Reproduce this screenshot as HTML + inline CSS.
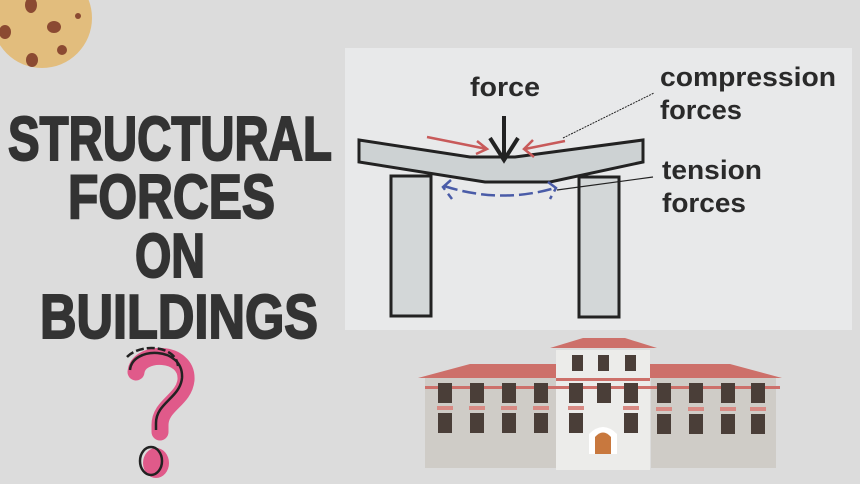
<!DOCTYPE html>
<html><head><meta charset="utf-8"><style>
html,body{margin:0;padding:0;}
body{width:860px;height:484px;background:#dcdcdc;overflow:hidden;position:relative;font-family:"Liberation Sans",sans-serif;}
svg{position:absolute;left:0;top:0;}
</style></head><body>
<svg width="860" height="484" viewBox="0 0 860 484">
<circle cx="42" cy="18" r="50" fill="#e2bd7d"/>
<ellipse cx="31" cy="5" rx="6" ry="8" fill="#8b4a32"/>
<ellipse cx="54" cy="27" rx="7" ry="6" fill="#8b4a32"/>
<ellipse cx="5" cy="32" rx="6" ry="7" fill="#8b4a32"/>
<ellipse cx="32" cy="60" rx="6" ry="7" fill="#8b4a32"/>
<ellipse cx="62" cy="50" rx="5" ry="5" fill="#8b4a32"/>
<ellipse cx="78" cy="16" rx="3" ry="3" fill="#8b4a32"/>
<g fill="#333" font-family="'Liberation Sans',sans-serif" font-weight="bold" font-size="62" stroke="#333" stroke-width="2">
<text x="8" y="160" textLength="324" lengthAdjust="spacingAndGlyphs">STRUCTURAL</text>
<text x="68" y="218" textLength="207" lengthAdjust="spacingAndGlyphs">FORCES</text>
<text x="135" y="277" textLength="70" lengthAdjust="spacingAndGlyphs">ON</text>
<text x="40" y="338" textLength="278" lengthAdjust="spacingAndGlyphs">BUILDINGS</text>
</g>
<!-- question mark -->
<path d="M136 372 C138 350 188 350 186 380 C184 400 160 405 160 425 L160 432" fill="none" stroke="#e05a8a" stroke-width="17" stroke-linecap="round"/>
<path d="M130 370 C132 346 184 346 182 378 C180 398 156 403 156 423 L156 430" fill="none" stroke="#222" stroke-width="2.5"/>
<path d="M127 357 C140 343 176 345 178 366" fill="none" stroke="#222" stroke-width="2.5" stroke-dasharray="8 3"/>
<ellipse cx="156" cy="463" rx="13" ry="15" fill="#e05a8a"/>
<ellipse cx="151" cy="461" rx="11" ry="14" fill="none" stroke="#222" stroke-width="2.5"/>
<!-- diagram panel -->
<rect x="345" y="48" width="507" height="282" fill="#e8e9ea"/>
<rect x="391" y="176" width="40" height="140" fill="#d3d7d8" stroke="#222" stroke-width="3"/>
<rect x="579" y="177" width="40" height="140" fill="#d3d7d8" stroke="#222" stroke-width="3"/>
<path d="M359 140 L470 157 L515 157 L643 140 L643 162 L550 182 L485 182 L359 162 Z" fill="#cdd2d3" stroke="#222" stroke-width="3"/>
<line x1="504" y1="116" x2="504" y2="160" stroke="#222" stroke-width="4"/>
<path d="M490 138 L504 160 L518 138" fill="none" stroke="#222" stroke-width="4"/>
<path d="M427 137 L487 149 M477 141 L487 149 L476 154" fill="none" stroke="#c85a5a" stroke-width="2.5"/>
<path d="M565 141 L525 149 M533 140 L524 149 L534 157" fill="none" stroke="#c85a5a" stroke-width="2.5"/>
<path d="M444 186 Q500 204 555 188 M451 180 L443 187 L452 199 M548 182 L556 188 L550 199" fill="none" stroke="#4a5ca8" stroke-width="2.5" stroke-dasharray="14 5"/>
<line x1="563" y1="138" x2="654" y2="93" stroke="#222" stroke-width="1" stroke-dasharray="2 1"/>
<line x1="557" y1="190" x2="653" y2="177" stroke="#222" stroke-width="1.2"/>
<g fill="#2a2a2a" font-family="'Liberation Sans',sans-serif" font-weight="bold" font-size="27">
<text x="470" y="96" textLength="70" lengthAdjust="spacingAndGlyphs">force</text>
<text x="660" y="86" textLength="176" lengthAdjust="spacingAndGlyphs">compression</text>
<text x="660" y="119" textLength="82" lengthAdjust="spacingAndGlyphs">forces</text>
<text x="662" y="179" textLength="100" lengthAdjust="spacingAndGlyphs">tension</text>
<text x="662" y="212" textLength="84" lengthAdjust="spacingAndGlyphs">forces</text>
</g>
<!-- building -->
<rect x="425" y="378" width="133" height="90" fill="#cfccc7"/>
<rect x="651" y="378" width="125" height="90" fill="#cfccc7"/>
<polygon points="418,378 470,364 560,364 560,378" fill="#cd706a"/>
<polygon points="650,364 730,364 782,378 650,378" fill="#cd706a"/>
<rect x="556" y="350" width="94" height="120" fill="#ececea"/>
<polygon points="550,348 583,338 625,338 657,348" fill="#cd706a"/>
<rect x="556" y="378" width="94" height="3" fill="#cd706a"/>
<rect x="425" y="386" width="355" height="3" fill="#cd706a"/>
<g fill="#4a3e38">
<rect x="438" y="383" width="14" height="20"/><rect x="470" y="383" width="14" height="20"/><rect x="502" y="383" width="14" height="20"/><rect x="534" y="383" width="14" height="20"/>
<rect x="438" y="413" width="14" height="20"/><rect x="470" y="413" width="14" height="20"/><rect x="502" y="413" width="14" height="20"/><rect x="534" y="413" width="14" height="20"/>
<rect x="569" y="383" width="14" height="20"/><rect x="597" y="383" width="14" height="20"/><rect x="624" y="383" width="14" height="20"/>
<rect x="569" y="413" width="14" height="20"/><rect x="624" y="413" width="14" height="20"/>
<rect x="572" y="355" width="11" height="16"/><rect x="598" y="355" width="11" height="16"/><rect x="625" y="355" width="11" height="16"/>
<rect x="657" y="383" width="14" height="20"/><rect x="689" y="383" width="14" height="20"/><rect x="721" y="383" width="14" height="20"/><rect x="751" y="383" width="14" height="20"/>
<rect x="657" y="414" width="14" height="20"/><rect x="689" y="414" width="14" height="20"/><rect x="721" y="414" width="14" height="20"/><rect x="751" y="414" width="14" height="20"/>
</g>
<g fill="#d88a84">
<rect x="437" y="406" width="16" height="4"/><rect x="469" y="406" width="16" height="4"/><rect x="501" y="406" width="16" height="4"/><rect x="533" y="406" width="16" height="4"/>
<rect x="568" y="406" width="16" height="4"/><rect x="623" y="406" width="16" height="4"/>
<rect x="656" y="407" width="16" height="4"/><rect x="688" y="407" width="16" height="4"/><rect x="720" y="407" width="16" height="4"/><rect x="750" y="407" width="16" height="4"/>
</g>
<path d="M589 454 L589 434 Q603 420 617 434 L617 454 Z" fill="#fff"/>
<path d="M595 454 L595 437 Q603 428 611 437 L611 454 Z" fill="#c8783e"/>
</svg>
</body></html>
